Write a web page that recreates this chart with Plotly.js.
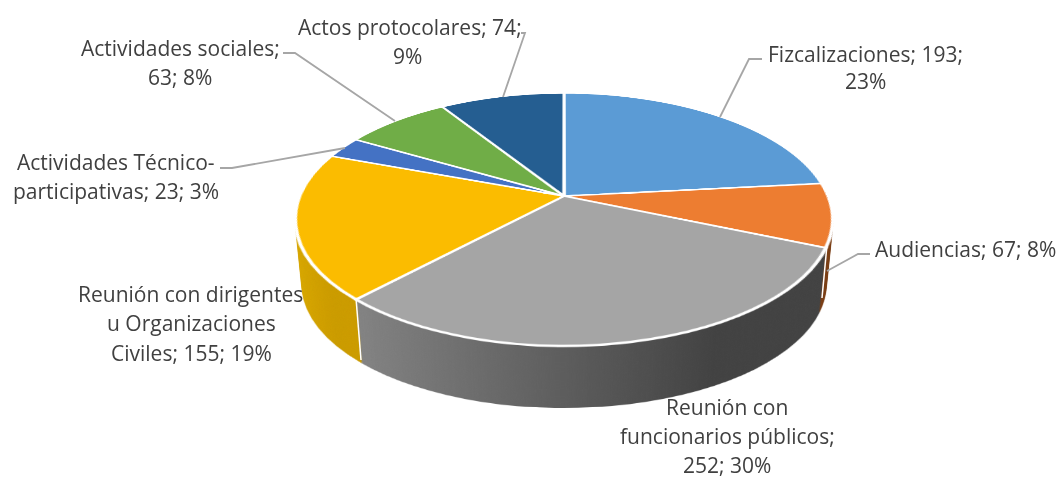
<!DOCTYPE html>
<html><head><meta charset="utf-8">
<script src="https://cdn.plot.ly/plotly-3.0.1.min.js"></script>
<style>
html,body{margin:0;padding:0;background:#fff;width:1062px;height:479px;overflow:hidden}
#stage{position:relative;width:1062px;height:479px;overflow:hidden}
.disc{position:absolute;width:520px;height:520px;left:303.5px;top:-64px}
#labels{position:absolute;left:0;top:0;width:1062px;height:479px}
</style></head><body>
<svg width="0" height="0" style="position:absolute"><defs>
<linearGradient id="wallGrey" gradientUnits="userSpaceOnUse" x1="67" y1="0" x2="380" y2="0"><stop offset="0" stop-color="#888888"/><stop offset="1" stop-color="#424242"/></linearGradient>
<linearGradient id="wallGold" gradientUnits="userSpaceOnUse" x1="5" y1="0" x2="65" y2="0"><stop offset="0" stop-color="#dcaa00"/><stop offset="1" stop-color="#cb9b00"/></linearGradient>
</defs></svg>
<div id="stage"><div id="pie" class="disc"></div><div id="labels"></div></div>
<script>
const categories = ['Fizcalizaciones','Audiencias','Reunión con funcionarios públicos','Reunión con dirigentes u Organizaciones Civiles','Actividades Técnico-participativas','Actividades sociales','Actos protocolares'];
const values = [193,67,252,155,23,63,74];
const sliceColors = ['#5b9bd5','#ed7d31','#a5a5a5','#fbbc00','#4472c4','#70ad47','#255e91'];
const wallFills = ['#2f5f88','#7a3e14','url(#wallGrey)','url(#wallGold)','#2a4a80','#4a7530','#173c5e'];
const labelTemplates = [
 ['Fizcalizaciones; {v};','{p}'],
 ['Audiencias; {v}; {p}'],
 ['Reunión con','funcionarios públicos;','{v}; {p}'],
 ['Reunión con dirigentes','u Organizaciones','Civiles; {v}; {p}'],
 ['Actividades Técnico-','participativas; {v}; {p}'],
 ['Actividades sociales;','{v}; {p}'],
 ['Actos protocolares; {v};','{p}']
];
const labelCentersX = [[865,865],[965],[727,727,727],[190,191,191],[116,116],[180,180],[410,407]];
const labelCentersY = [[54,81],[249],[407,436,465],[294,323,353],[162,191],[48,77],[27,56]];
const leaders = [
 [[762,59],[749,59],[720,117]],
 [[870,254],[858,254],[827,271]],
 [[220,168],[232,168],[345,148]],
 [[283,53],[295,53],[395,121]],
 [[521,33],[525,33],[503,97]]
];
const wallEdges = [[[356,298],[361,360]],[[827,245],[822,298]]];

const total = values.reduce((a,b)=>a+b,0);
const R = 250, size = 520;
// projective map of the pie plane: the disc is seen from above, near edge larger
const sx = 264/R, sy = 122/R, persp = -0.186/R;
const plane = `matrix3d(${sx},0,0,0, 0,${sy},0,${persp}, 0,0,1,0, 0,0,0,1)`;
const wallDepth = 66, wallShrink = 0.025;

const pieDiv = document.getElementById('pie');
pieDiv.style.transform = plane;
pieDiv.style.zIndex = 2;

Plotly.newPlot(pieDiv,[{
  type:'pie',values:values,labels:categories,sort:false,direction:'clockwise',rotation:0,
  textinfo:'none',hoverinfo:'none',showlegend:false,
  marker:{colors:sliceColors,line:{color:'#ffffff',width:3.2}},
  domain:{x:[0,1],y:[0,1]}
}],{width:size,height:size,margin:{l:10,r:10,t:10,b:10},paper_bgcolor:'rgba(0,0,0,0)',plot_bgcolor:'rgba(0,0,0,0)',showlegend:false},
{displayModeBar:false,staticPlot:true}).then(()=>{
  const stage = document.getElementById('stage');
  const src = pieDiv.querySelector('svg.main-svg');
  for(let i=wallDepth;i>=1;i--){
    const d = document.createElement('div');
    d.className='disc';
    d.style.zIndex=1;
    const c = 1 - wallShrink*i/wallDepth;
    d.style.transform = `translateY(${i}px) scale(${c}) ${plane}`;
    const svg = src.cloneNode(true);
    svg.style.position='absolute';svg.style.left='0';svg.style.top='0';
    svg.style.background='transparent';
    svg.querySelectorAll('.slice path').forEach((p,k)=>{
      p.style.fill = wallFills[k];
      p.style.stroke = 'none';
      p.style.strokeWidth = 0;
    });
    d.appendChild(svg);
    stage.insertBefore(d,pieDiv);
  }
});

const annotations = [];
labelTemplates.forEach((lines,i)=>{
  const pct = Math.round(values[i]/total*100)+'%';
  lines.forEach((t,j)=>annotations.push({
    text:t.replace('{v}',values[i]).replace('{p}',pct),
    x:labelCentersX[i][j],y:labelCentersY[i][j],xref:'x',yref:'y',
    xanchor:'center',yanchor:'middle',showarrow:false,
    font:{family:'"Open Sans", sans-serif',size:21,color:'#404040'}
  }));
});
const toPath = pts => pts.map((p,i)=>(i?'L':'M')+p[0]+' '+p[1]).join(' ');
const shapes = leaders.map(pts=>({type:'path',path:toPath(pts),xref:'x',yref:'y',line:{color:'#a6a6a6',width:1.8}}))
  .concat(wallEdges.map(pts=>({type:'path',path:toPath(pts),xref:'x',yref:'y',line:{color:'#ffffff',width:1.5}})));
const labelsDiv = document.getElementById('labels');
labelsDiv.style.zIndex = 3;
Plotly.newPlot(labelsDiv,[],{
  width:1062,height:479,margin:{l:0,r:0,t:0,b:0},
  paper_bgcolor:'rgba(0,0,0,0)',plot_bgcolor:'rgba(0,0,0,0)',showlegend:false,
  xaxis:{range:[0,1062],visible:false,fixedrange:true},
  yaxis:{range:[479,0],visible:false,fixedrange:true},
  annotations:annotations,shapes:shapes
},{displayModeBar:false,staticPlot:true});
</script>
</body></html>
